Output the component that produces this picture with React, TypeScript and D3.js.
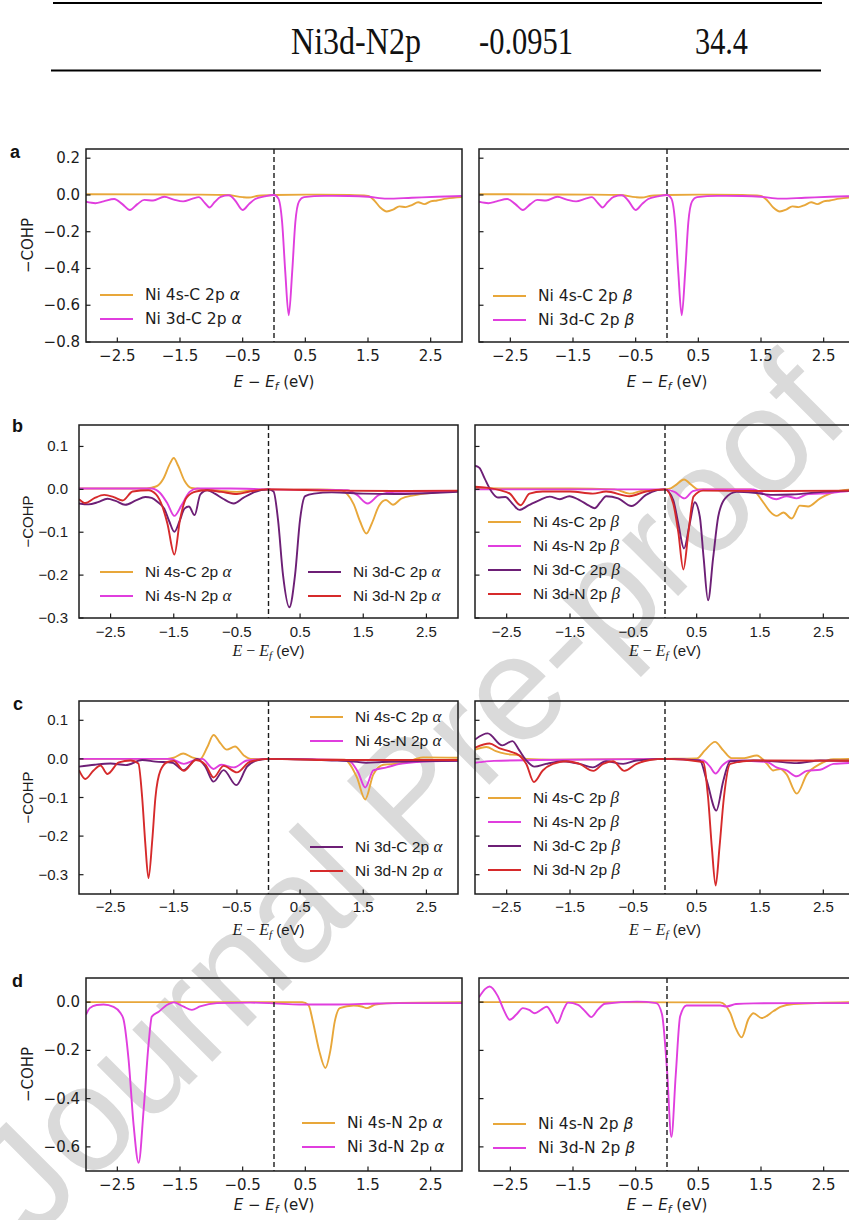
import React from 'react';
import * as d3 from 'd3';

type Pt = [number, number];

// axis ticks
const energyTicks = [-2.5, -1.5, -0.5, 0.5, 1.5, 2.5];
const yTicksA = [0.2, 0, -0.2, -0.4, -0.6, -0.8];
const yTicksBC = [0.1, 0, -0.1, -0.2, -0.3];
const yTicksD = [0, -0.2, -0.4, -0.6];

// last row of the table above the figure
const tableRow = ['Ni3d-N2p', '-0.0951', '34.4'];

// ---- panel a (the beta curves read the same as alpha) ----
const a4sC: Pt[] = [[-3, 0.004], [-2, 0.003], [-1.2, 0.002], [-0.75, 0], [-0.5, -0.012], [-0.4, -0.014], [-0.25, -0.004], [0, 0], [0.5, 0.002], [1.2, 0], [1.5, -0.005], [1.6, -0.03], [1.7, -0.07], [1.8, -0.09], [1.9, -0.08], [2.0, -0.062], [2.1, -0.066], [2.2, -0.055], [2.3, -0.04], [2.4, -0.05], [2.5, -0.035], [2.6, -0.03], [2.75, -0.02], [3, -0.012]];
const a3dC: Pt[] = [[-3, -0.037], [-2.85, -0.045], [-2.72, -0.035], [-2.55, -0.022], [-2.42, -0.05], [-2.3, -0.082], [-2.18, -0.05], [-2.07, -0.027], [-1.93, -0.03], [-1.75, -0.01], [-1.6, -0.025], [-1.45, -0.035], [-1.3, -0.02], [-1.2, -0.012], [-1.1, -0.045], [-1.03, -0.068], [-0.95, -0.04], [-0.85, -0.01], [-0.72, -0.002], [-0.62, -0.03], [-0.5, -0.082], [-0.4, -0.05], [-0.3, -0.022], [-0.15, -0.008], [0, 0], [0.07, -0.02], [0.13, -0.15], [0.18, -0.42], [0.235, -0.655], [0.29, -0.42], [0.34, -0.15], [0.4, -0.035], [0.48, -0.012], [0.8, -0.005], [1.2, -0.006], [1.5, -0.01], [1.8, -0.02], [2.2, -0.015], [2.6, -0.01], [3, -0.006]];

// ---- panel b ----
const bA4sC: Pt[] = [[-3, 0.002], [-2, 0.002], [-1.85, 0.004], [-1.76, 0.008], [-1.66, 0.026], [-1.56, 0.06], [-1.5, 0.073], [-1.43, 0.055], [-1.33, 0.02], [-1.22, 0.003], [-1.0, 0], [-0.75, -0.004], [-0.5, -0.006], [-0.25, -0.002], [0, 0], [0.8, 0], [1.15, -0.002], [1.25, -0.012], [1.35, -0.035], [1.45, -0.075], [1.55, -0.103], [1.64, -0.078], [1.75, -0.038], [1.86, -0.025], [1.97, -0.036], [2.1, -0.022], [2.3, -0.014], [2.6, -0.008], [3, -0.004]];
const bA4sN: Pt[] = [[-3, 0.002], [-1.85, 0.002], [-1.72, -0.008], [-1.6, -0.033], [-1.49, -0.062], [-1.38, -0.038], [-1.25, -0.006], [-1.13, 0.002], [-0.6, 0.002], [0, 0], [1.25, -0.002], [1.4, -0.013], [1.57, -0.033], [1.75, -0.013], [2.0, -0.006], [3, -0.004]];
const bA3dC: Pt[] = [[-3, -0.033], [-2.85, -0.035], [-2.7, -0.03], [-2.55, -0.022], [-2.42, -0.027], [-2.27, -0.036], [-2.1, -0.026], [-1.95, -0.018], [-1.85, -0.02], [-1.75, -0.03], [-1.65, -0.045], [-1.57, -0.075], [-1.49, -0.099], [-1.41, -0.075], [-1.33, -0.045], [-1.26, -0.04], [-1.17, -0.06], [-1.08, -0.012], [-0.97, -0.002], [-0.85, -0.01], [-0.72, -0.022], [-0.55, -0.033], [-0.4, -0.02], [-0.25, -0.008], [0, 0], [0.08, -0.005], [0.15, -0.07], [0.23, -0.2], [0.33, -0.275], [0.42, -0.2], [0.5, -0.07], [0.58, -0.016], [0.72, -0.01], [1.0, -0.007], [1.5, -0.01], [2.0, -0.011], [2.5, -0.009], [3, -0.006]];
const bA3dN: Pt[] = [[-3, -0.023], [-2.9, -0.032], [-2.75, -0.02], [-2.6, -0.013], [-2.45, -0.018], [-2.31, -0.026], [-2.15, -0.005], [-1.9, -0.002], [-1.78, -0.012], [-1.68, -0.04], [-1.6, -0.08], [-1.49, -0.152], [-1.4, -0.07], [-1.3, -0.02], [-1.15, -0.005], [-0.97, -0.002], [-0.75, -0.006], [-0.5, -0.011], [-0.3, -0.005], [0, 0], [1, -0.003], [2, -0.004], [3, -0.003]];
const bB4sC: Pt[] = [[-3, 0.003], [-2.5, 0.002], [-1.5, 0.002], [-0.8, 0], [-0.56, -0.01], [-0.35, -0.003], [0, 0], [0.1, 0.003], [0.18, 0.011], [0.3, 0.023], [0.42, 0.01], [0.52, 0], [1.35, 0], [1.45, -0.01], [1.55, -0.03], [1.66, -0.052], [1.76, -0.062], [1.87, -0.054], [2.0, -0.068], [2.13, -0.038], [2.26, -0.04], [2.45, -0.021], [2.7, -0.005], [3, 0]];
const bB4sN: Pt[] = [[-3, 0], [0, 0], [0.15, -0.006], [0.31, -0.021], [0.44, -0.004], [0.6, 0], [1.4, 0], [1.55, -0.01], [1.76, -0.023], [1.92, -0.016], [2.08, -0.021], [2.26, -0.011], [2.45, -0.01], [2.9, -0.004], [3, -0.003]];
const bB3dC: Pt[] = [[-3, 0.055], [-2.93, 0.05], [-2.85, 0.026], [-2.74, -0.005], [-2.64, -0.019], [-2.52, -0.018], [-2.4, -0.035], [-2.3, -0.048], [-2.15, -0.037], [-1.98, -0.025], [-1.82, -0.017], [-1.66, -0.023], [-1.51, -0.016], [-1.35, -0.025], [-1.2, -0.038], [-1.11, -0.044], [-1.02, -0.03], [-0.93, -0.016], [-0.74, -0.021], [-0.53, -0.039], [-0.3, -0.013], [-0.12, -0.002], [0, 0], [0.13, -0.025], [0.21, -0.08], [0.3, -0.138], [0.39, -0.08], [0.47, -0.03], [0.55, -0.064], [0.61, -0.16], [0.68, -0.259], [0.76, -0.16], [0.84, -0.064], [0.95, -0.021], [1.13, -0.006], [1.4, -0.008], [1.7, -0.013], [2.0, -0.012], [2.5, -0.006], [3, -0.003]];
const bB3dN: Pt[] = [[-3, 0.006], [-2.82, 0.004], [-2.61, -0.002], [-2.45, -0.01], [-2.28, -0.037], [-2.14, -0.01], [-1.93, -0.005], [-1.5, -0.005], [-1.14, -0.01], [-0.93, -0.005], [-0.56, -0.016], [-0.3, -0.005], [0, 0], [0.13, -0.033], [0.21, -0.1], [0.29, -0.187], [0.37, -0.1], [0.45, -0.017], [0.6, -0.003], [1.5, -0.004], [3, -0.003]];

// ---- panel c ----
const cA4sC: Pt[] = [[-3, 0], [-1.6, 0], [-1.5, 0.003], [-1.35, 0.014], [-1.21, 0.004], [-1.08, 0], [-0.97, 0.03], [-0.87, 0.062], [-0.76, 0.04], [-0.66, 0.024], [-0.53, 0.032], [-0.39, 0.009], [-0.28, 0], [0, 0], [1.2, -0.002], [1.4, -0.048], [1.53, -0.105], [1.66, -0.04], [1.82, -0.015], [2.08, -0.012], [2.3, -0.002], [2.45, 0.004], [3, 0.003]];
const cA4sN: Pt[] = [[-3, 0], [-1.55, 0], [-1.34, -0.013], [-1.15, -0.002], [-1.05, 0], [-0.87, -0.026], [-0.75, -0.015], [-0.55, -0.022], [-0.34, -0.004], [0, 0], [1.25, -0.003], [1.42, -0.035], [1.53, -0.074], [1.66, -0.03], [1.87, -0.022], [2.08, -0.013], [2.56, -0.006], [3, -0.005]];
const cA3dC: Pt[] = [[-3, -0.02], [-2.75, -0.015], [-2.5, -0.012], [-2.26, -0.016], [-2.0, -0.003], [-1.79, -0.007], [-1.52, -0.01], [-1.35, -0.029], [-1.13, 0], [-1.0, -0.02], [-0.87, -0.059], [-0.71, -0.029], [-0.51, -0.068], [-0.34, -0.02], [-0.18, -0.004], [0, 0], [1.0, -0.004], [1.3, -0.006], [1.55, -0.01], [1.8, -0.008], [3, -0.005]];
const cA3dN: Pt[] = [[-3, -0.029], [-2.9, -0.052], [-2.77, -0.03], [-2.66, -0.017], [-2.55, -0.039], [-2.37, -0.009], [-2.18, -0.004], [-2.06, -0.012], [-2.0, -0.1], [-1.95, -0.22], [-1.9, -0.309], [-1.84, -0.21], [-1.79, -0.1], [-1.71, -0.03], [-1.6, -0.008], [-1.5, -0.005], [-1.34, -0.031], [-1.15, -0.003], [-1.0, -0.015], [-0.87, -0.048], [-0.71, -0.018], [-0.5, -0.035], [-0.3, -0.008], [0, 0], [1, -0.003], [3, -0.003]];
const cB4sC: Pt[] = [[-3, 0.024], [-2.82, 0.031], [-2.67, 0.02], [-2.51, 0.013], [-2.3, 0.009], [-2.19, 0], [-1.8, -0.002], [0, 0], [0.5, 0.001], [0.63, 0.022], [0.79, 0.044], [0.92, 0.022], [1.05, 0.002], [1.25, 0.002], [1.45, 0.009], [1.61, -0.013], [1.71, -0.03], [1.82, -0.026], [1.92, -0.04], [2.08, -0.09], [2.24, -0.04], [2.45, -0.013], [2.66, -0.001], [3, 0]];
const cB4sN: Pt[] = [[-3, -0.01], [-2.7, -0.005], [-2, -0.003], [0, 0], [0.6, -0.004], [0.71, -0.02], [0.8, -0.038], [0.9, -0.018], [1.03, -0.004], [1.61, -0.008], [1.76, -0.022], [1.92, -0.03], [2.08, -0.045], [2.24, -0.031], [2.45, -0.028], [2.66, -0.013], [3, -0.01]];
const cB3dC: Pt[] = [[-3, 0.05], [-2.8, 0.066], [-2.57, 0.035], [-2.41, 0.046], [-2.3, 0.022], [-2.19, -0.004], [-2.06, -0.02], [-1.88, -0.013], [-1.61, -0.006], [-1.35, -0.013], [-1.14, -0.022], [-0.93, -0.006], [-0.66, -0.013], [-0.45, -0.004], [0, 0], [0.55, -0.004], [0.66, -0.057], [0.81, -0.134], [0.92, -0.057], [1.03, -0.006], [1.4, -0.004], [1.71, -0.006], [2.08, -0.011], [2.45, -0.004], [3, -0.005]];
const cB3dN: Pt[] = [[-3, 0.029], [-2.77, 0.04], [-2.62, 0.028], [-2.46, 0.02], [-2.3, 0.009], [-2.19, -0.013], [-2.07, -0.06], [-1.93, -0.03], [-1.77, -0.013], [-1.56, -0.006], [-1.35, -0.013], [-1.13, -0.031], [-0.98, -0.013], [-0.82, -0.006], [-0.64, -0.031], [-0.45, -0.013], [-0.24, -0.003], [0, 0], [0.6, -0.008], [0.68, -0.1], [0.74, -0.23], [0.8, -0.328], [0.86, -0.23], [0.93, -0.1], [1.03, -0.013], [1.39, -0.004], [3, -0.005]];

// ---- panel d ----
const dA4sN: Pt[] = [[-3, 0], [0.45, 0], [0.55, -0.012], [0.62, -0.08], [0.72, -0.2], [0.82, -0.273], [0.9, -0.2], [0.97, -0.08], [1.05, -0.025], [1.27, -0.014], [1.4, -0.018], [1.48, -0.025], [1.62, -0.01], [2.0, -0.003], [3, 0]];
const dA3dN: Pt[] = [[-3, -0.052], [-2.94, -0.025], [-2.83, -0.012], [-2.72, -0.01], [-2.56, -0.02], [-2.45, -0.045], [-2.4, -0.073], [-2.32, -0.24], [-2.24, -0.51], [-2.16, -0.666], [-2.08, -0.445], [-2.0, -0.17], [-1.95, -0.06], [-1.84, -0.04], [-1.71, -0.012], [-1.6, -0.001], [-1.45, -0.018], [-1.31, -0.032], [-1.18, -0.018], [-0.91, -0.004], [-0.38, -0.002], [0, -0.005], [0.4, -0.01], [0.95, -0.01], [1.48, -0.007], [2.0, -0.004], [3, -0.004]];
const dB4sN: Pt[] = [[-3, 0], [0.85, -0.001], [1.01, -0.046], [1.1, -0.11], [1.19, -0.146], [1.3, -0.07], [1.38, -0.046], [1.51, -0.066], [1.7, -0.037], [1.81, -0.02], [2.02, -0.008], [3, 0]];
const dB3dN: Pt[] = [[-3, 0.02], [-2.9, 0.055], [-2.83, 0.065], [-2.7, 0.025], [-2.6, -0.035], [-2.51, -0.073], [-2.4, -0.05], [-2.3, -0.025], [-2.2, -0.032], [-2.11, -0.046], [-2.0, -0.03], [-1.92, -0.019], [-1.83, -0.05], [-1.75, -0.087], [-1.65, -0.03], [-1.58, -0.002], [-1.42, -0.011], [-1.3, -0.04], [-1.21, -0.062], [-1.1, -0.03], [-0.99, -0.007], [-0.48, 0.002], [-0.17, -0.004], [-0.08, -0.05], [0, -0.28], [0.07, -0.559], [0.14, -0.3], [0.21, -0.059], [0.31, -0.014], [0.85, -0.014], [0.95, -0.018], [1.1, -0.008], [1.38, -0.005], [2.0, -0.004], [3, -0.004]];

const GOLD = '#e8a73a';
const MAG = '#e03ede';
const PUR = '#6d1f76';
const RED = '#d62a2b';

interface Series { data: Pt[]; color: string; name: string }
interface Legend { x: number; y: number; idx: number[] }
interface PanelSpec {
  id: string; letter?: string; lx?: number; ly?: number;
  left: number; w: number; top: number; h: number;
  yDomain: [number, number]; yTicks: number[]; yLabels: boolean;
  font: 'dv' | 'ar'; spin: string;
  series: Series[]; legends: Legend[];
  tickBase: number; labelBase: number;
}

const seriesA: Series[] = [
  { data: a4sC, color: GOLD, name: 'Ni 4s-C 2p' },
  { data: a3dC, color: MAG, name: 'Ni 3d-C 2p' },
];

const panels: PanelSpec[] = [
  { id: 'aL', letter: 'a', lx: 10, ly: 158, left: 86, w: 376, top: 149, h: 193, yDomain: [-0.8, 0.25], yTicks: yTicksA, yLabels: true, font: 'dv', spin: 'α', series: seriesA, legends: [{ x: 100, y: 295, idx: [0, 1] }], tickBase: 361, labelBase: 387 },
  { id: 'aR', left: 479, w: 376, top: 149, h: 193, yDomain: [-0.8, 0.25], yTicks: yTicksA, yLabels: false, font: 'dv', spin: 'β', series: seriesA, legends: [{ x: 493, y: 296, idx: [0, 1] }], tickBase: 361, labelBase: 387 },
  {
    id: 'bL', letter: 'b', lx: 12, ly: 432, left: 79, w: 379, top: 425, h: 193, yDomain: [-0.3, 0.15], yTicks: yTicksBC, yLabels: true, font: 'ar', spin: 'α',
    series: [{ data: bA4sC, color: GOLD, name: 'Ni 4s-C 2p' }, { data: bA4sN, color: MAG, name: 'Ni 4s-N 2p' }, { data: bA3dC, color: PUR, name: 'Ni 3d-C 2p' }, { data: bA3dN, color: RED, name: 'Ni 3d-N 2p' }],
    legends: [{ x: 100, y: 572, idx: [0, 1] }, { x: 308, y: 572, idx: [2, 3] }], tickBase: 637, labelBase: 656,
  },
  {
    id: 'bR', left: 475, w: 380, top: 425, h: 193, yDomain: [-0.3, 0.15], yTicks: yTicksBC, yLabels: false, font: 'ar', spin: 'β',
    series: [{ data: bB4sC, color: GOLD, name: 'Ni 4s-C 2p' }, { data: bB4sN, color: MAG, name: 'Ni 4s-N 2p' }, { data: bB3dC, color: PUR, name: 'Ni 3d-C 2p' }, { data: bB3dN, color: RED, name: 'Ni 3d-N 2p' }],
    legends: [{ x: 488, y: 522, idx: [0, 1, 2, 3] }], tickBase: 637, labelBase: 656,
  },
  {
    id: 'cL', letter: 'c', lx: 13, ly: 710, left: 79, w: 379, top: 701, h: 193, yDomain: [-0.35, 0.15], yTicks: yTicksBC, yLabels: true, font: 'ar', spin: 'α',
    series: [{ data: cA4sC, color: GOLD, name: 'Ni 4s-C 2p' }, { data: cA4sN, color: MAG, name: 'Ni 4s-N 2p' }, { data: cA3dC, color: PUR, name: 'Ni 3d-C 2p' }, { data: cA3dN, color: RED, name: 'Ni 3d-N 2p' }],
    legends: [{ x: 310, y: 717, idx: [0, 1] }, { x: 310, y: 847, idx: [2, 3] }], tickBase: 912, labelBase: 935,
  },
  {
    id: 'cR', left: 475, w: 380, top: 701, h: 193, yDomain: [-0.35, 0.15], yTicks: yTicksBC, yLabels: false, font: 'ar', spin: 'β',
    series: [{ data: cB4sC, color: GOLD, name: 'Ni 4s-C 2p' }, { data: cB4sN, color: MAG, name: 'Ni 4s-N 2p' }, { data: cB3dC, color: PUR, name: 'Ni 3d-C 2p' }, { data: cB3dN, color: RED, name: 'Ni 3d-N 2p' }],
    legends: [{ x: 488, y: 798, idx: [0, 1, 2, 3] }], tickBase: 912, labelBase: 935,
  },
  {
    id: 'dL', letter: 'd', lx: 12, ly: 987, left: 86, w: 376, top: 978, h: 193, yDomain: [-0.7, 0.1], yTicks: yTicksD, yLabels: true, font: 'dv', spin: 'α',
    series: [{ data: dA4sN, color: GOLD, name: 'Ni 4s-N 2p' }, { data: dA3dN, color: MAG, name: 'Ni 3d-N 2p' }],
    legends: [{ x: 302, y: 1123, idx: [0, 1] }], tickBase: 1190, labelBase: 1210,
  },
  {
    id: 'dR', left: 479, w: 376, top: 978, h: 193, yDomain: [-0.7, 0.1], yTicks: yTicksD, yLabels: false, font: 'dv', spin: 'β',
    series: [{ data: dB4sN, color: GOLD, name: 'Ni 4s-N 2p' }, { data: dB3dN, color: MAG, name: 'Ni 3d-N 2p' }],
    legends: [{ x: 493, y: 1124, idx: [0, 1] }], tickBase: 1190, labelBase: 1210,
  },
];

const fmt = d3.format('.1f');

function Panel({ p }: { p: PanelSpec }) {
  const x = d3.scaleLinear().domain([-3, 3]).range([p.left, p.left + p.w]);
  const y = d3.scaleLinear().domain(p.yDomain).range([p.top + p.h, p.top]);
  const line = d3.line<Pt>().x(d => x(d[0])).y(d => y(d[1])).curve(d3.curveMonotoneX);
  const sans = p.font === 'dv' ? 'DejaVu Sans' : 'Liberation Sans, Arial, sans-serif';
  const greekFam = p.font === 'dv' ? 'DejaVu Sans' : 'Liberation Serif, serif';
  const bottom = p.top + p.h;
  const cx = x(0);
  const ink = '#1c1c1c';
  return (
    <g>
      <clipPath id={`clip-${p.id}`}>
        <rect x={p.left} y={p.top} width={p.w} height={p.h} />
      </clipPath>
      <g clipPath={`url(#clip-${p.id})`}>
        {p.series.map((s, i) => (
          <path key={i} d={line(s.data) || ''} fill="none" stroke={s.color} strokeWidth={1.9} />
        ))}
      </g>
      <line x1={cx} x2={cx} y1={p.top} y2={bottom} stroke={ink} strokeWidth={1.4} strokeDasharray="5,3" />
      <rect x={p.left} y={p.top} width={p.w} height={p.h} fill="none" stroke={ink} strokeWidth={1.5} />
      {energyTicks.map(t => (
        <g key={t}>
          <line x1={x(t)} x2={x(t)} y1={bottom} y2={bottom - 4.5} stroke={ink} strokeWidth={1.2} />
          <text x={x(t)} y={p.tickBase} textAnchor="middle" fontFamily={sans} fontSize={15} fill={ink}>{fmt(t)}</text>
        </g>
      ))}
      {p.yTicks.map(t => (
        <g key={t}>
          <line x1={p.left} x2={p.left + 4.5} y1={y(t)} y2={y(t)} stroke={ink} strokeWidth={1.2} />
          {p.yLabels && (
            <text x={p.left - (p.font === 'dv' ? 6 : 11)} y={y(t) + 5} textAnchor="end" fontFamily={sans} fontSize={15} fill={ink}>{fmt(t)}</text>
          )}
        </g>
      ))}
      {p.yLabels && (
        <text transform={`translate(28,${p.top + p.h / 2}) rotate(-90)`} dy="0.35em" textAnchor="middle" fontFamily={sans} fontSize={15} fill={ink}>−COHP</text>
      )}
      {p.font === 'dv' ? (
        <text x={cx} y={p.labelBase} textAnchor="middle" fontFamily={sans} fontSize={15} fill={ink}>
          <tspan fontStyle="italic">E</tspan>{' − '}<tspan fontStyle="italic">E</tspan>
          <tspan fontStyle="italic" fontSize={10.5} dy={3}>f</tspan>
          <tspan dy={-3}>{' (eV)'}</tspan>
        </text>
      ) : (
        <text x={cx} y={p.labelBase} textAnchor="middle" fontSize={16} fill={ink}>
          <tspan fontFamily="Liberation Serif, serif" fontStyle="italic">E</tspan>
          <tspan fontFamily="Liberation Serif, serif">{' − '}</tspan>
          <tspan fontFamily="Liberation Serif, serif" fontStyle="italic">E</tspan>
          <tspan fontFamily="Liberation Serif, serif" fontStyle="italic" fontSize={11} dy={3}>f</tspan>
          <tspan fontFamily={sans} fontSize={15} dy={-3}>{' (eV)'}</tspan>
        </text>
      )}
      {p.legends.map((lg, li) => (
        <g key={li}>
          {lg.idx.map((si, k) => {
            const s = p.series[si];
            const yy = lg.y + k * 24;
            return (
              <g key={si}>
                <line x1={lg.x} x2={lg.x + 33} y1={yy} y2={yy} stroke={s.color} strokeWidth={1.9} />
                <text x={lg.x + 45} y={yy + 5} fontFamily={sans} fontSize={15.5} fill={ink}>
                  {s.name + ' '}
                  <tspan fontFamily={greekFam} fontStyle="italic" fontSize={p.font === 'dv' ? 15.5 : 17}>{p.spin}</tspan>
                </text>
              </g>
            );
          })}
        </g>
      ))}
      {p.letter && (
        <text x={p.lx} y={p.ly} fontFamily="Liberation Sans, Arial, sans-serif" fontWeight="bold" fontSize={18} fill="#111">{p.letter}</text>
      )}
    </g>
  );
}

export default function App() {
  const colX = [291, 479, 695];
  const colW = [130, 94, 53];
  return (
    <svg width={849} height={1220} style={{ position: 'absolute', left: 0, top: 0, background: '#fff' }}>
      <rect width={849} height={1220} fill="#fff" />
      {/* journal watermark, under the plots */}
      <text transform="translate(34,1240) rotate(-45)" fontFamily="Liberation Sans, Arial, sans-serif" fontSize={150} fill="#dadada">Journal Pre-proof</text>
      <line x1={53} x2={822} y1={3} y2={3} stroke="#000" strokeWidth={2.2} />
      <line x1={51} x2={821} y1={70.5} y2={70.5} stroke="#000" strokeWidth={2.2} />
      {tableRow.map((t, i) => (
        <text key={i} x={colX[i]} y={54} fontFamily="Liberation Serif, serif" fontSize={38} textLength={colW[i]} lengthAdjust="spacingAndGlyphs" fill="#111">{t}</text>
      ))}
      {panels.map(p => <Panel key={p.id} p={p} />)}
    </svg>
  );
}
